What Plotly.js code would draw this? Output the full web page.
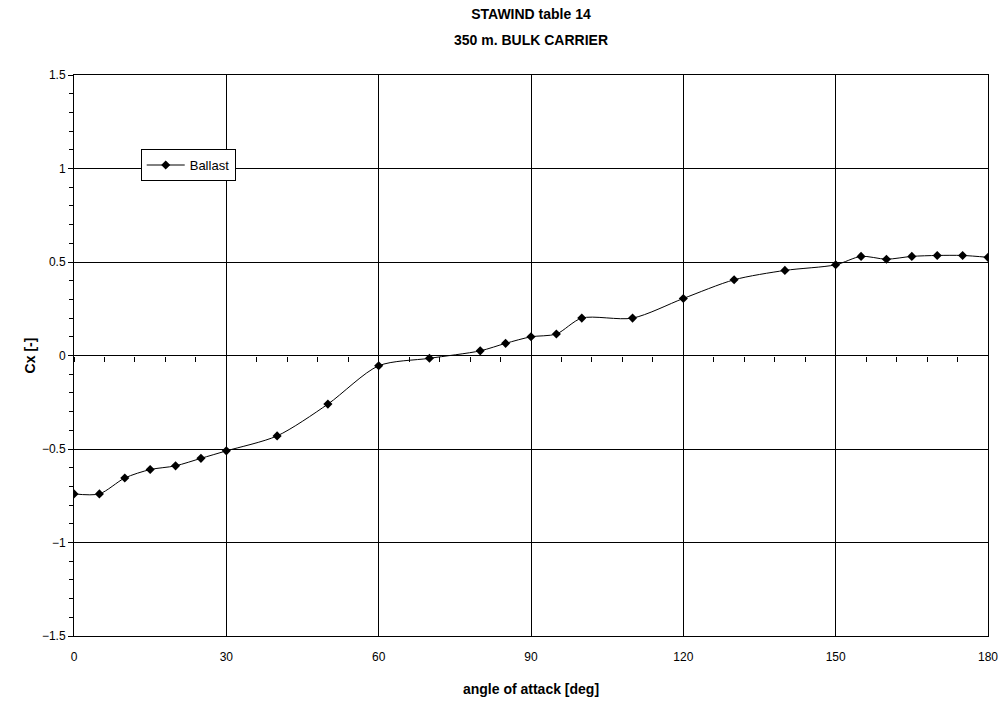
<!DOCTYPE html>
<html>
<head>
<meta charset="utf-8">
<script src="https://cdn.plot.ly/plotly-3.0.1.min.js"></script>
<style>
  html, body { margin: 0; padding: 0; background: #fff; }
  #chart { width: 1007px; height: 708px; }
</style>
</head>
<body>
<div id="chart"></div>
<script>
// Longitudinal wind force coefficient, ballast condition
const angle = [0, 5, 10, 15, 20, 25, 30, 40, 50, 60, 70, 80, 85, 90, 95, 100, 110, 120, 130, 140, 150, 155, 160, 165, 170, 175, 180];
const cxBallast = [-0.74, -0.74, -0.655, -0.61, -0.59, -0.55, -0.51, -0.43, -0.26, -0.055, -0.015, 0.025, 0.065, 0.1, 0.115, 0.2, 0.2, 0.305, 0.405, 0.455, 0.485, 0.53, 0.515, 0.53, 0.535, 0.535, 0.525];

const seriesName = 'Ballast';
const titleLine1 = 'STAWIND table 14';
const titleLine2 = '350 m. BULK CARRIER';
const xTitle = 'angle of attack [deg]';
const yTitle = 'Cx [-]';

const font = 'Liberation Sans, Arial, sans-serif';

const traces = [
  {
    x: angle,
    y: cxBallast,
    name: seriesName,
    type: 'scatter',
    mode: 'lines+markers',
    line: { color: '#000', width: 1, shape: 'spline', smoothing: 0.8 },
    marker: { symbol: 'diamond', size: 7, color: '#000' },
    hoverinfo: 'x+y'
  },
  {
    // carries the tick axis drawn along Cx = 0
    x: angle,
    y: cxBallast,
    xaxis: 'x2',
    type: 'scatter',
    mode: 'lines',
    line: { width: 0, color: 'rgba(0,0,0,0)' },
    showlegend: false,
    hoverinfo: 'skip'
  }
];

const layout = {
  width: 1007,
  height: 708,
  margin: { l: 74, r: 19, t: 75, b: 72 },
  paper_bgcolor: '#fff',
  plot_bgcolor: '#fff',
  font: { family: font, size: 12, color: '#000' },
  title: {
    text: '<b>' + titleLine1 + '</b>',
    font: { family: font, size: 14, color: '#000' },
    x: 0.5,
    xref: 'paper',
    xanchor: 'center',
    yref: 'container',
    y: 1 - 14 / 708,
    yanchor: 'middle'
  },
  annotations: [
    {
      text: '<b>' + titleLine2 + '</b>',
      font: { family: font, size: 14, color: '#000' },
      xref: 'paper', yref: 'paper',
      x: 0.5, y: (561 + 35) / 561,
      xanchor: 'center', yanchor: 'middle',
      showarrow: false
    }
  ],
  showlegend: true,
  legend: {
    x: 0.073, y: 0.868, xanchor: 'left', yanchor: 'top',
    bgcolor: '#fff', bordercolor: '#000', borderwidth: 1,
    font: { family: font, size: 13, color: '#000' },
    itemwidth: 38,
    tracegroupgap: 0
  },
  xaxis: {
    range: [0, 180],
    tickmode: 'linear', tick0: 0, dtick: 30,
    ticks: '',
    ticklabelstandoff: 10,
    showgrid: true, gridcolor: '#000', gridwidth: 1,
    showline: true, linecolor: '#000', linewidth: 1, mirror: true,
    zeroline: false,
    tickfont: { family: font, size: 12, color: '#000' },
    title: { text: '<b>' + xTitle + '</b>', font: { family: font, size: 14, color: '#000' }, standoff: 20 }
  },
  xaxis2: {
    overlaying: 'x',
    anchor: 'free',
    position: 0.5,
    side: 'bottom',
    range: [0, 180],
    tickmode: 'linear', tick0: 0, dtick: 6,
    ticks: 'outside', ticklen: 5, tickcolor: '#000', tickwidth: 1,
    showticklabels: false,
    showgrid: false, zeroline: false,
    showline: false
  },
  yaxis: {
    range: [-1.5, 1.5],
    tickmode: 'linear', tick0: 0, dtick: 0.5,
    ticks: 'outside', ticklen: 5, tickcolor: '#000',
    minor: { dtick: 0.1, ticks: 'outside', ticklen: 4, tickcolor: '#000', showgrid: false },
    showgrid: true, gridcolor: '#000', gridwidth: 1,
    showline: true, linecolor: '#000', linewidth: 1, mirror: true,
    zeroline: false,
    tickfont: { family: font, size: 12, color: '#000' },
    title: { text: '<b>' + yTitle + '</b>', font: { family: font, size: 14, color: '#000' }, standoff: 2 }
  }
};

Plotly.newPlot('chart', traces, layout, { displayModeBar: false, staticPlot: true });
</script>
</body>
</html>
